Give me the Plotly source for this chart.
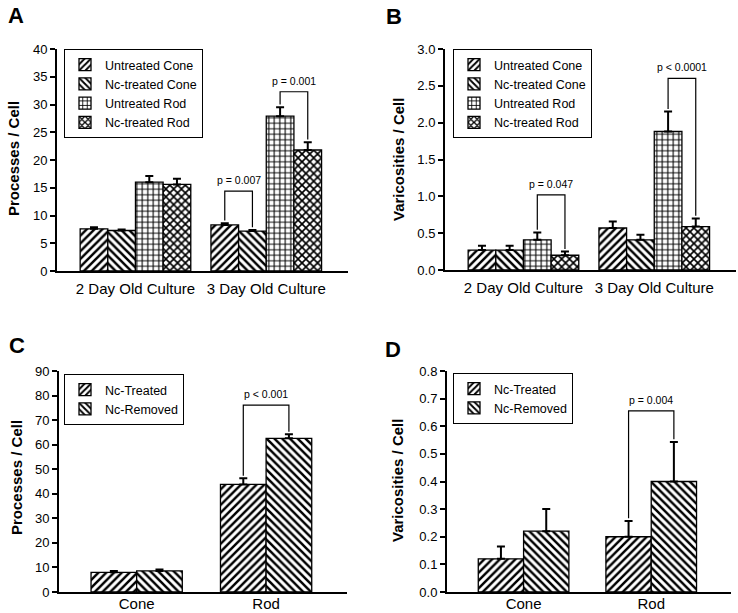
import plotly.graph_objects as go

# Panel A: processes per cell, by culture age
age_groups = ['2 Day Old Culture', '3 Day Old Culture']
four_series = ['Untreated Cone', 'Nc-treated Cone', 'Untreated Rod', 'Nc-treated Rod']
a_values = [[7.6, 8.3], [7.3, 7.2], [16.0, 27.9], [15.6, 21.8]]
a_errors = [[0.3, 0.3], [0.2, 0.2], [1.1, 1.6], [1.0, 1.4]]

# Panel B: varicosities per cell, by culture age
b_values = [[0.27, 0.57], [0.27, 0.41], [0.41, 1.88], [0.20, 0.59]]
b_errors = [[0.06, 0.09], [0.06, 0.07], [0.10, 0.27], [0.05, 0.11]]

# Panels C and D: Nc-treated vs Nc-removed
cell_types = ['Cone', 'Rod']
two_series = ['Nc-Treated', 'Nc-Removed']
c_values = [[8.0, 43.8], [8.6, 62.6]]
c_errors = [[0.6, 2.5], [0.6, 1.6]]
d_values = [[0.12, 0.20], [0.22, 0.40]]
d_errors = [[0.045, 0.057], [0.08, 0.143]]

# significance brackets: (group index, bar i, bar j, bracket level, label)
a_brackets = [(1, 0, 1, 14.4, 'p = 0.007'), (1, 2, 3, 32.3, 'p = 0.001')]
b_brackets = [(0, 2, 3, 1.02, 'p = 0.047'), (1, 2, 3, 2.6, 'p < 0.0001')]
c_brackets = [(1, 0, 1, 76.1, 'p < 0.001')]
d_brackets = [(1, 0, 1, 0.656, 'p = 0.004')]

FONT = 'Liberation Sans, Arial, sans-serif'
W, H = 738, 613
PATTERNS = ['/', '\\', '+', 'x']
SOLIDITY = [0.45, 0.45, 0.35, 0.5]

fig = go.Figure()


def px_x(v):
    return v / W


def px_y(v):
    return 1 - v / H


panels = [
    dict(ax='', leg='legend', vals=a_values, errs=a_errors, names=four_series, cats=age_groups,
         brackets=a_brackets, yr=[0, 40], dtick=5, fmt='d', gap=0.154, standoff=3,
         xd=(57, 348), yd=(49, 271), lp=(64, 49), title='Processes / Cell', tp=(14, 159),
         letter='A', letpos=(16, 15)),
    dict(ax='2', leg='legend2', vals=b_values, errs=b_errors, names=four_series, cats=age_groups,
         brackets=b_brackets, yr=[0, 3], dtick=0.5, fmt='.1f', gap=0.154, standoff=3,
         xd=(445, 736), yd=(49, 270), lp=(453, 49), title='Varicosities / Cell', tp=(398, 160),
         letter='B', letpos=(394, 16)),
    dict(ax='3', leg='legend3', vals=c_values, errs=c_errors, names=two_series, cats=cell_types,
         brackets=c_brackets, yr=[0, 90], dtick=10, fmt='d', gap=0.295, standoff=-3,
         xd=(59, 347), yd=(371, 592), lp=(64, 374), title='Processes / Cell', tp=(16, 478),
         letter='C', letpos=(17, 345)),
    dict(ax='4', leg='legend4', vals=d_values, errs=d_errors, names=two_series, cats=cell_types,
         brackets=d_brackets, yr=[0, 0.8], dtick=0.1, fmt='.1f', gap=0.29, standoff=-3,
         xd=(447, 731), yd=(371, 592), lp=(453, 373), title='Varicosities / Cell', tp=(398, 481),
         letter='D', letpos=(393, 349)),
]

layout = {}
annotations = []
shapes = []

for p in panels:
    xa, ya = 'x' + p['ax'], 'y' + p['ax']
    n = len(p['names'])
    xs = list(range(len(p['cats'])))
    group_w = 1 - p['gap']
    bar_w = group_w / n
    for i, name in enumerate(p['names']):
        fig.add_trace(go.Bar(
            x=xs, y=p['vals'][i], name=name, xaxis=xa, yaxis=ya, legend=p['leg'],
            width=bar_w, offset=-group_w / 2 + i * bar_w,
            marker=dict(color='white', line=dict(color='black', width=1.3),
                        pattern=dict(shape=PATTERNS[i], size=5.5, solidity=SOLIDITY[i],
                                     fgcolor='black', bgcolor='white', fgopacity=1)),
            error_y=dict(type='data', symmetric=False, array=p['errs'][i],
                         arrayminus=[0] * len(xs), color='black', thickness=2, width=4),
        ))

    key = p['ax']
    layout['xaxis' + key] = dict(
        domain=[px_x(p['xd'][0]), px_x(p['xd'][1])], anchor=ya, range=[-0.6, 1.625],
        tickvals=xs, ticktext=p['cats'], showline=True, linecolor='black', linewidth=2,
        ticks='', showgrid=False, zeroline=False, automargin=False,
        ticklabelstandoff=p['standoff'],
        tickfont=dict(family=FONT, size=15, color='black'))
    layout['yaxis' + key] = dict(
        domain=[px_y(p['yd'][1]), px_y(p['yd'][0])], anchor=xa, range=p['yr'],
        dtick=p['dtick'], tickformat=p['fmt'], showline=True, linecolor='black',
        linewidth=2, ticks='outside', ticklen=5, tickwidth=1.5, tickcolor='black',
        showgrid=False, zeroline=False, automargin=False,
        tickfont=dict(family=FONT, size=13, color='black'))
    layout[p['leg']] = dict(
        x=px_x(p['lp'][0]), y=px_y(p['lp'][1]), xanchor='left', yanchor='top',
        bordercolor='black', borderwidth=1, bgcolor='white',
        font=dict(family=FONT, size=12.5, color='black'), itemwidth=30,
        tracegroupgap=0)

    # brackets drawn from the bar tops + error
    span = p['yr'][1] - p['yr'][0]
    for g, i, j, level, label in p['brackets']:
        xi = g - group_w / 2 + (i + 0.5) * bar_w
        xj = g - group_w / 2 + (j + 0.5) * bar_w
        yi = p['vals'][i][g] + p['errs'][i][g] + span * 0.012
        yj = p['vals'][j][g] + p['errs'][j][g] + span * 0.012
        line = dict(color='black', width=1.2)
        shapes.append(dict(type='path', xref=xa, yref=ya, line=line,
                           path=f'M {xi} {yi} L {xi} {level} L {xj} {level} L {xj} {yj}'))
        annotations.append(dict(x=(xi + xj) / 2, y=level, xref=xa, yref=ya, text=label,
                                showarrow=False, yanchor='bottom', yshift=3,
                                font=dict(family=FONT, size=10.5, color='black')))

    annotations.append(dict(x=px_x(p['tp'][0]), y=px_y(p['tp'][1]), xref='paper', yref='paper',
                            text='<b>' + p['title'] + '</b>', textangle=-90, showarrow=False,
                            xanchor='center', yanchor='middle',
                            font=dict(family=FONT, size=15, color='black')))
    annotations.append(dict(x=px_x(p['letpos'][0]), y=px_y(p['letpos'][1]), xref='paper',
                            yref='paper', text='<b>' + p['letter'] + '</b>', showarrow=False,
                            xanchor='center', yanchor='middle',
                            font=dict(family=FONT, size=22, color='black')))

fig.update_layout(
    width=W, height=H, margin=dict(l=0, r=0, t=0, b=0),
    paper_bgcolor='white', plot_bgcolor='white',
    barmode='overlay',
    annotations=annotations, shapes=shapes, **layout)

# drop the browser's default page margin so the figure sits at the window corner
fig.write_html('out.html', config={'displayModeBar': False},
               post_script="document.body.style.margin='0';")
